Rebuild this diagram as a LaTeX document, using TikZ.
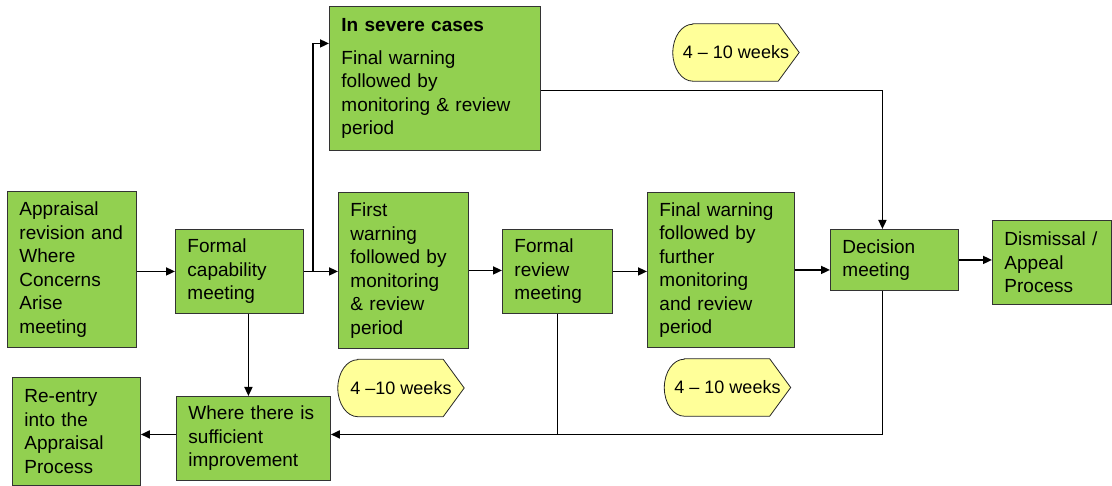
\documentclass[tikz,border=0pt]{standalone}
\usepackage{fontspec}
\setmainfont{Liberation Sans}
\usepackage{tikz}
\usetikzlibrary{positioning,calc,arrows.meta,backgrounds}
\definecolor{boxgreen}{RGB}{146,208,80}
\definecolor{weekyellow}{RGB}{255,255,153}

\begin{document}
\begin{tikzpicture}[x=1pt,y=-1pt,
    box/.style={draw=black!80, line width=0.9pt, fill=boxgreen, anchor=north west, align=left,
        inner xsep=12pt, inner ysep=0pt, font=\fontsize{19}{23.5}\selectfont},
    weeks/.style={minimum width=126pt, minimum height=57pt, inner sep=0pt, font=\fontsize{18}{22}\selectfont},
    weekshape/.style={draw=black!85, line width=0.8pt, fill=weekyellow},
    link/.style={line width=1.7pt},
    arr/.style={link, -{Triangle[length=9pt,width=8pt]}}]
        \useasboundingbox (0,0) rectangle (1112,486);

        % Boxes
        \node[box, text width=105pt, minimum height=156pt] (app) at (7,191) {Appraisal\\revision and\\Where\\Concerns\\Arise\\meeting};
        \node[box, text width=104pt, minimum height=84pt] (fcap) at (175,229) {Formal\\capability\\meeting};
        \node[box, text width=187pt, minimum height=144pt] (sev) at (329,6) {\textbf{In severe cases}\\[9.5pt]Final warning\\followed by\\monitoring \& review\\period};
        \node[box, text width=106pt, minimum height=156pt] (fw) at (338,192) {First\\warning\\followed by\\monitoring\\\& review\\period};
        \node[box, text width=86pt, minimum height=84pt] (frev) at (502,229) {Formal\\review\\meeting};
        \node[box, text width=123pt, minimum height=155pt] (ffw) at (647,192) {Final warning\\followed by\\further\\monitoring\\and review\\period};
        \node[box, text width=104pt, minimum height=61pt] (dec) at (830,229) {Decision\\meeting};
        \node[box, text width=95pt, minimum height=84pt] (dis) at (992,220) {Dismissal /\\Appeal\\Process};
        \node[box, text width=104pt, minimum height=108pt] (re) at (12,377) {Re-entry\\into the\\Appraisal\\Process};
        \node[box, text width=130pt, minimum height=84pt] (where) at (176,396) {Where there is\\sufficient\\improvement};

        % Time labels
        \node[weeks] (wkTop) at (736,52.5) {4 -- 10 weeks};
        \node[weeks] (wkLeft) at (401,388) {4 --10 weeks};
        \node[weeks] (wkMid) at (727.5,387.5) {4 -- 10 weeks};
        \begin{scope}[on background layer]
            \foreach \wk in {wkTop,wkLeft,wkMid}
                \draw[weekshape] ([xshift=20pt]\wk.north west) -- ([xshift=-21pt]\wk.north east) -- (\wk.east)
                    -- ([xshift=-21pt]\wk.south east) -- ([xshift=20pt]\wk.south west)
                    arc[start angle=270, end angle=90, x radius=20pt, y radius=28.5pt] -- cycle;
        \end{scope}

        % Main row
        \draw[arr] (app.east |- fcap.west) -- (fcap.west);
        \coordinate (split) at ($(fcap.east)+(9,0)$);
        \draw[link] (fcap.east) -- (split);
        \draw[arr] (split) -- (split -| fw.west);
        \draw[arr] (split) |- ([yshift=35pt]sev.west);
        \draw[arr] (fw.east) -- (fw.east -| frev.west);
        \draw[arr] (frev.east) -- (frev.east -| ffw.west);
        \draw[arr] (ffw.east) -- (ffw.east -| dec.west);
        \draw[arr] ([yshift=-12pt]sev.east) -| ([xshift=-12pt]dec.north);
        \draw[arr] (dec.east) -- (dec.east -| dis.west);

        % Return path
        \coordinate (back) at ([yshift=4pt]where.east);
        \draw[arr] ([xshift=-12pt]dec.south) |- (back);
        \draw[link] (frev.south) -- (frev.south |- back);
        \coordinate (down) at ([xshift=9pt]fcap.south);
        \draw[arr] (down) -- (down |- where.north);
        \coordinate (out) at ([yshift=4pt]where.west);
        \draw[arr] (out) -- (out -| re.east);
    \end{tikzpicture}
\end{document}
